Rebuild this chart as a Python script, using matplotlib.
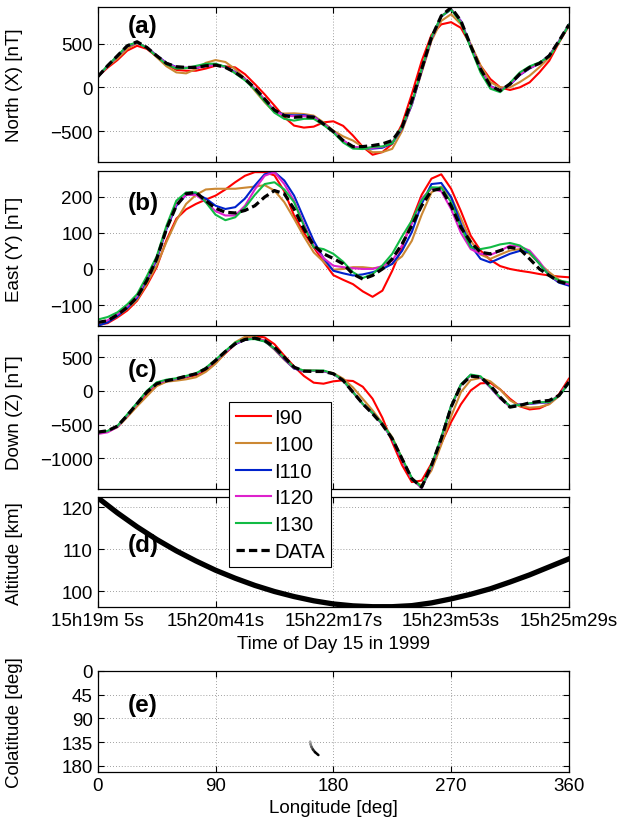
import numpy as np
import matplotlib.pyplot as plt

plt.rcParams['font.family'] = ['Liberation Sans', 'DejaVu Sans']
plt.rcParams['font.size'] = 13.5

# time axis: seconds after 15h19m05s, field values read every 8 s
t_sec = np.arange(0, 385, 8)
t_alt = np.arange(0, 385, 16)
time_ticks = [0, 96, 192, 288, 384]
time_labels = ['15h19m 5s', '15h20m41s', '15h22m17s', '15h23m53s', '15h25m29s']

series_names = ['I90', 'I100', 'I110', 'I120', 'I130', 'DATA']
series_colors = ['#ff0000', '#cc8833', '#0022cc', '#dd22cc', '#11bb44', 'k']

# (a) North component [nT]
north_i90 = [122, 225, 312, 420, 475, 440, 350, 265, 200, 190, 190, 215, 247, 240, 228, 150,
             38, -80, -209, -340, -437, -460, -449, -400, -388, -440, -551, -680, -770, -740,
             -646, -420, -76, 300, 600, 720, 745, 680, 480, 247, 95, 0, -30, 0, 57, 171,
             304, 513, 703]
north_i100 = [122, 240, 330, 440, 505, 460, 345, 240, 171, 160, 209, 280, 312, 290, 209, 100,
              -38, -170, -285, -300, -297, -305, -323, -400, -495, -560, -608, -680, -741, -740,
              -703, -500, -190, 170, 532, 760, 836, 720, 494, 250, 60, 0, 0, 60, 133, 230,
              342, 520, 703]
north_i110 = [120, 245, 355, 470, 510, 455, 365, 280, 232, 222, 222, 245, 262, 235, 175, 95,
              -15, -140, -265, -315, -320, -318, -335, -415, -508, -610, -680, -695, -700, -690,
              -640, -470, -200, 190, 555, 810, 890, 760, 470, 200, 15, -35, 30, 140, 215, 275,
              365, 530, 715]
north_i120 = [120, 248, 355, 472, 512, 455, 362, 276, 228, 225, 225, 245, 255, 230, 170, 92,
              -12, -145, -270, -322, -330, -330, -340, -418, -508, -605, -680, -690, -692, -680,
              -630, -462, -195, 195, 560, 815, 895, 755, 465, 200, 10, -35, 35, 145, 220, 272,
              360, 530, 715]
north_i130 = [120, 250, 360, 478, 515, 450, 355, 262, 215, 220, 245, 270, 270, 235, 160, 80,
              -25, -160, -290, -360, -380, -360, -360, -430, -515, -630, -700, -705, -680, -675,
              -640, -450, -180, 210, 575, 815, 890, 740, 450, 170, -15, -55, 50, 170, 240, 285,
              350, 520, 715]
north_data = [122, 247, 361, 475, 521, 456, 361, 274, 236, 228, 228, 247, 255, 228, 171, 95,
              -8, -133, -259, -323, -342, -335, -342, -418, -505, -608, -677, -677, -665, -646,
              -608, -456, -152, 209, 570, 817, 912, 760, 475, 209, 19, -38, 38, 152, 228, 274,
              361, 532, 715]

# (b) East component [nT]
east_i90 = [-155, -150, -134, -115, -88, -45, 5, 80, 139, 165, 180, 192, 203, 220, 240, 258,
            268, 268, 259, 215, 148, 100, 60, 20, -17, -30, -42, -62, -77, -60, -5, 60,
            135, 205, 250, 262, 222, 160, 92, 51, 25, 8, 0, -5, -9, -14, -18, -21, -23]
east_i100 = [-152, -146, -130, -110, -85, -40, 10, 75, 134, 180, 205, 220, 222, 222, 222, 225,
             228, 232, 217, 185, 139, 90, 46, 20, -2, 0, 5, 5, 2, 5, 14, 35,
             78, 150, 212, 228, 199, 140, 78, 40, 28, 40, 51, 55, 42, 15, -9, -30, -42]
east_i110 = [-157, -148, -130, -108, -80, -30, 25, 110, 175, 205, 208, 195, 175, 166, 171, 195,
             231, 262, 268, 245, 203, 140, 78, 30, -5, -12, -18, -15, -9, 0, 14, 50,
             102, 180, 235, 238, 199, 125, 65, 28, 18, 30, 42, 50, 46, 15, -18, -38, -46]
east_i120 = [-150, -142, -125, -103, -75, -25, 30, 115, 180, 205, 205, 185, 160, 148, 148, 175,
             220, 258, 268, 235, 189, 125, 65, 30, 9, 5, 2, 0, 0, 8, 23, 65,
             125, 195, 222, 215, 166, 100, 55, 42, 39, 50, 65, 62, 51, 20, -17, -35, -42]
east_i130 = [-140, -133, -120, -98, -70, -20, 35, 120, 189, 212, 212, 185, 150, 135, 143, 170,
             205, 235, 240, 220, 185, 120, 60, 55, 42, 20, -9, -25, -14, 10, 42, 90,
             134, 190, 226, 225, 185, 115, 60, 55, 60, 68, 72, 65, 46, 15, -18, -32, -37]
east_data = [-148, -143, -127, -106, -78, -32, 28, 111, 175, 208, 212, 189, 168, 157, 155, 162,
             175, 199, 217, 208, 166, 111, 65, 42, 29, 14, -14, -28, -18, 0, 28, 69,
             120, 175, 217, 222, 175, 115, 74, 46, 42, 51, 60, 55, 28, 0, -18, -35, -42]

# (c) Down component [nT]
down_i90 = [-612, -600, -530, -380, -215, -50, 80, 140, 165, 200, 230, 300, 420, 555, 690, 775,
            815, 790, 690, 520, 360, 220, 120, 105, 140, 155, 145, 60, -118, -400, -760, -1100,
            -1352, -1330, -1080, -780, -464, -200, 5, 110, 118, 20, -118, -230, -276, -260, -192,
            -50, 178]
down_i100 = [-612, -605, -540, -390, -230, -80, 70, 135, 150, 170, 200, 280, 400, 560, 720, 800,
             800, 740, 610, 460, 330, 300, 300, 290, 262, 180, 50, -120, -290, -480, -686, -1000,
             -1320, -1400, -1180, -800, -380, -20, 160, 190, 140, 20, -140, -225, -250, -240, -200,
             -80, 150]
down_i110 = [-625, -605, -530, -362, -185, -10, 115, 155, 175, 210, 250, 330, 445, 575, 690, 755,
             775, 735, 620, 470, 330, 290, 295, 290, 250, 150, -20, -195, -330, -495, -715, -1020,
             -1300, -1435, -1120, -700, -230, 90, 235, 200, 50, -110, -230, -200, -195, -180, -170,
             -70, 120]
down_i120 = [-640, -615, -535, -365, -190, -15, 112, 155, 177, 212, 248, 330, 450, 578, 695, 760,
             780, 740, 625, 478, 335, 293, 295, 290, 252, 152, -22, -198, -335, -500, -715, -1025,
             -1310, -1440, -1125, -705, -235, 88, 232, 200, 52, -115, -235, -205, -190, -175, -165,
             -68, 125]
down_i130 = [-620, -595, -520, -350, -180, 0, 125, 165, 185, 220, 258, 340, 460, 590, 715, 765,
             765, 730, 630, 490, 345, 300, 300, 300, 255, 155, -20, -195, -330, -490, -700, -1000,
             -1290, -1430, -1100, -690, -220, 95, 240, 215, 60, -100, -225, -210, -185, -170, -165,
             -75, 110]
down_data = [-612, -592, -523, -365, -192, -20, 104, 148, 178, 217, 252, 326, 449, 582, 696, 760,
             780, 745, 646, 498, 350, 291, 286, 286, 252, 153, -20, -192, -340, -503, -710, -1007,
             -1303, -1426, -1105, -710, -242, 79, 217, 202, 79, -94, -242, -217, -178, -158, -143,
             -69, 128]

# (d) altitude [km], every 16 s
altitude = [122.2, 118.6, 115.3, 112.3, 109.6, 107.2, 105.0, 103.1, 101.4, 99.95,
            98.75, 97.75, 97.0, 96.55, 96.35, 96.35, 96.6, 97.25, 98.2, 99.3,
            100.6, 102.2, 103.9, 105.8, 107.7]

# (e) ground track
track_lon = [162.3, 162.6, 163.3, 164.4, 166.0, 168.6]
track_colat = [134.0, 139.0, 144.0, 149.0, 154.0, 159.5]
track_shade = ['0.8', '0.65', '0.5', '0.35', '0.15', '0.0']

fig = plt.figure(figsize=(6.19, 8.29), dpi=100)

x0, w = 0.158, 0.761
ax_a = fig.add_axes([x0, 0.8037, w, 0.1863])
ax_b = fig.add_axes([x0, 0.6059, w, 0.1870])
ax_c = fig.add_axes([x0, 0.4093, w, 0.1857])
ax_d = fig.add_axes([x0, 0.2662, w, 0.1327])
ax_e = fig.add_axes([x0, 0.0679, w, 0.1218])


def style_axis(ax):
    ax.grid(True, linestyle=(0, (1, 2.5)), color='0.5', linewidth=0.6)
    ax.tick_params(direction='in', top=True, right=True, length=4, width=0.8)
    for sp in ax.spines.values():
        sp.set_linewidth(0.9)


def plot_components(ax, series):
    handles = []
    for vals, name, col in zip(series, series_names, series_colors):
        if name == 'DATA':
            h, = ax.plot(t_sec, vals, color=col, lw=2.3, dashes=(2.6, 1.3), label=name)
        else:
            h, = ax.plot(t_sec, vals, color=col, lw=1.5, label=name)
        handles.append(h)
    ax.set_xlim(time_ticks[0], time_ticks[-1])
    ax.set_xticks(time_ticks)
    ax.set_xticklabels([])
    return handles


plot_components(ax_a, [north_i90, north_i100, north_i110, north_i120, north_i130, north_data])
ax_a.set_ylim(-850, 915)
ax_a.set_yticks([-500, 0, 500])
ax_a.set_ylabel('North (X) [nT]')

plot_components(ax_b, [east_i90, east_i100, east_i110, east_i120, east_i130, east_data])
ax_b.set_ylim(-157, 272)
ax_b.set_yticks([-100, 0, 100, 200])
ax_b.set_ylabel('East (Y) [nT]')

handles = plot_components(ax_c, [down_i90, down_i100, down_i110, down_i120, down_i130, down_data])
ax_c.set_ylim(-1450, 830)
ax_c.set_yticks([-1000, -500, 0, 500])
ax_c.set_ylabel('Down (Z) [nT]')

ax_d.plot(t_alt, altitude, color='k', lw=3.8)
ax_d.set_xlim(time_ticks[0], time_ticks[-1])
ax_d.set_xticks(time_ticks)
ax_d.set_xticklabels(time_labels)
ax_d.set_ylim(96.2, 122.3)
ax_d.set_yticks([100, 110, 120])
ax_d.set_ylabel('Altitude [km]')
ax_d.set_xlabel('Time of Day 15 in 1999')

for i in range(len(track_lon) - 1):
    ax_e.plot(track_lon[i:i + 2], track_colat[i:i + 2], color=track_shade[i + 1],
              lw=1.8, solid_capstyle='round')
ax_e.set_xlim(0, 360)
ax_e.set_xticks([0, 90, 180, 270, 360])
ax_e.set_ylim(191, 0)
ax_e.set_yticks([0, 45, 90, 135, 180])
ax_e.set_ylabel('Colatitude [deg]')
ax_e.set_xlabel('Longitude [deg]')

panel_tags = ['(a)', '(b)', '(c)', '(d)', '(e)']
tag_y = [0.885, 0.798, 0.771, 0.575, 0.67]
for ax, tag, ty in zip([ax_a, ax_b, ax_c, ax_d, ax_e], panel_tags, tag_y):
    style_axis(ax)
    ax.text(0.096, ty, tag, transform=ax.transAxes, fontsize=17.5,
            fontweight='bold', ha='center', va='center')
    ax.yaxis.set_label_coords(-0.158, 0.5)

leg = fig.legend(handles, series_names, loc='upper left',
                 bbox_to_anchor=(0.370, 0.5142), bbox_transform=fig.transFigure,
                 fancybox=False, edgecolor='k', framealpha=1, borderaxespad=0,
                 handlelength=1.75, handletextpad=0.15, labelspacing=0.38,
                 borderpad=0.33, fontsize=14.5)
leg.get_frame().set_linewidth(0.8)

fig.savefig('out.png', dpi=100)
